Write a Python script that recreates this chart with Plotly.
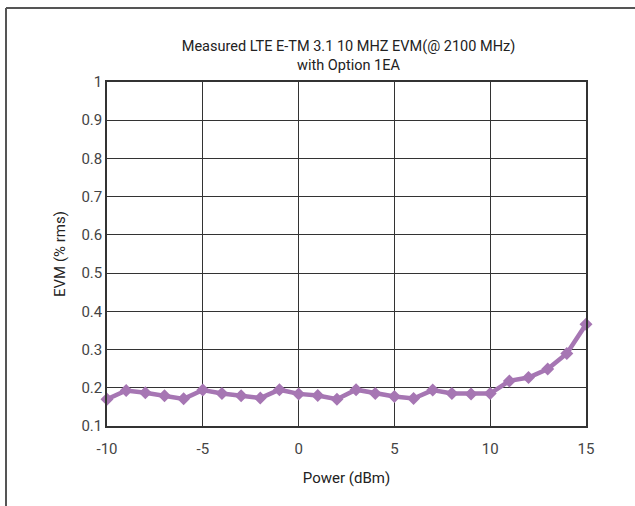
import plotly.graph_objects as go

power_dbm = list(range(-10, 16))
evm_pct = [0.170, 0.193, 0.187, 0.179, 0.171, 0.194, 0.185, 0.179, 0.173, 0.195,
           0.184, 0.180, 0.170, 0.195, 0.185, 0.177, 0.172, 0.194, 0.185, 0.184,
           0.185, 0.218, 0.227, 0.249, 0.290, 0.366]

x_tickvals = [-10, -5, 0, 5, 10, 15]
x_ticktext = ["-10", "-5", "0", "5", "10", "15"]
y_tickvals = [0.1, 0.2, 0.3, 0.4, 0.5, 0.6, 0.7, 0.8, 0.9, 1.0]
y_ticktext = ["0.1", "0.2", "0.3", "0.4", "0.5", "0.6", "0.7", "0.8", "0.9", "1"]

title_text = "Measured LTE E-TM 3.1 10 MHZ EVM(@ 2100 MHz)<br>with Option 1EA"
x_title = "Power (dBm)"
y_title = "EVM (% rms)"

FONT = "Roboto, sans-serif"
W, H = 635, 506
L, R, T, B = 107, 49, 82, 80
pw, ph = W - L - R, H - T - B

def px_to_paper_x(px):
    return (px - L) / pw

def px_to_paper_y(py):
    return 1 - (py - T) / ph

fig = go.Figure()
fig.add_trace(go.Scatter(
    x=power_dbm, y=evm_pct, mode="lines+markers",
    line=dict(color="#a676b3", width=4.5),
    marker=dict(symbol="diamond", size=10, color="#a676b3"),
    showlegend=False, cliponaxis=False,
))

fig.update_layout(
    width=W, height=H,
    margin=dict(l=L, r=R, t=T, b=B),
    paper_bgcolor="white", plot_bgcolor="white",
    font=dict(family=FONT, size=14, color="#222"),
    title=dict(text=title_text, x=(L + pw / 2 + 2) / W, xanchor="center",
               y=1 - 51 / H, yanchor="middle",
               font=dict(family=FONT, size=14.5, color="#222")),
    xaxis=dict(range=[-10, 15], tickvals=x_tickvals, ticktext=x_ticktext, showgrid=True,
               gridcolor="#333", gridwidth=1, zeroline=False,
               showline=True, linecolor="#333", linewidth=1.5, mirror=True,
               ticks="", ticklabelstandoff=8, tickfont=dict(size=15, color="#444"),
               title=dict(text=x_title, font=dict(size=15, color="#222"), standoff=16)),
    yaxis=dict(range=[0.1, 1], tickvals=y_tickvals, ticktext=y_ticktext, showgrid=True,
               gridcolor="#333", gridwidth=1, zeroline=False,
               showline=True, linecolor="#333", linewidth=1.5, mirror=True,
               ticks="", tickfont=dict(size=15, color="#444"),
               title=dict(text=y_title, font=dict(size=15, color="#222"), standoff=12)),
    shapes=[
        dict(type="line", xref="paper", yref="paper",
             x0=px_to_paper_x(6), x1=px_to_paper_x(W + 5),
             y0=px_to_paper_y(8), y1=px_to_paper_y(8),
             line=dict(color="#555", width=2)),
        dict(type="line", xref="paper", yref="paper",
             x0=px_to_paper_x(6), x1=px_to_paper_x(6),
             y0=px_to_paper_y(8), y1=px_to_paper_y(H + 5),
             line=dict(color="#555", width=2)),
    ],
)

fig.write_html("out.html", config={"displayModeBar": False},
               post_script="document.body.style.margin='0';")
